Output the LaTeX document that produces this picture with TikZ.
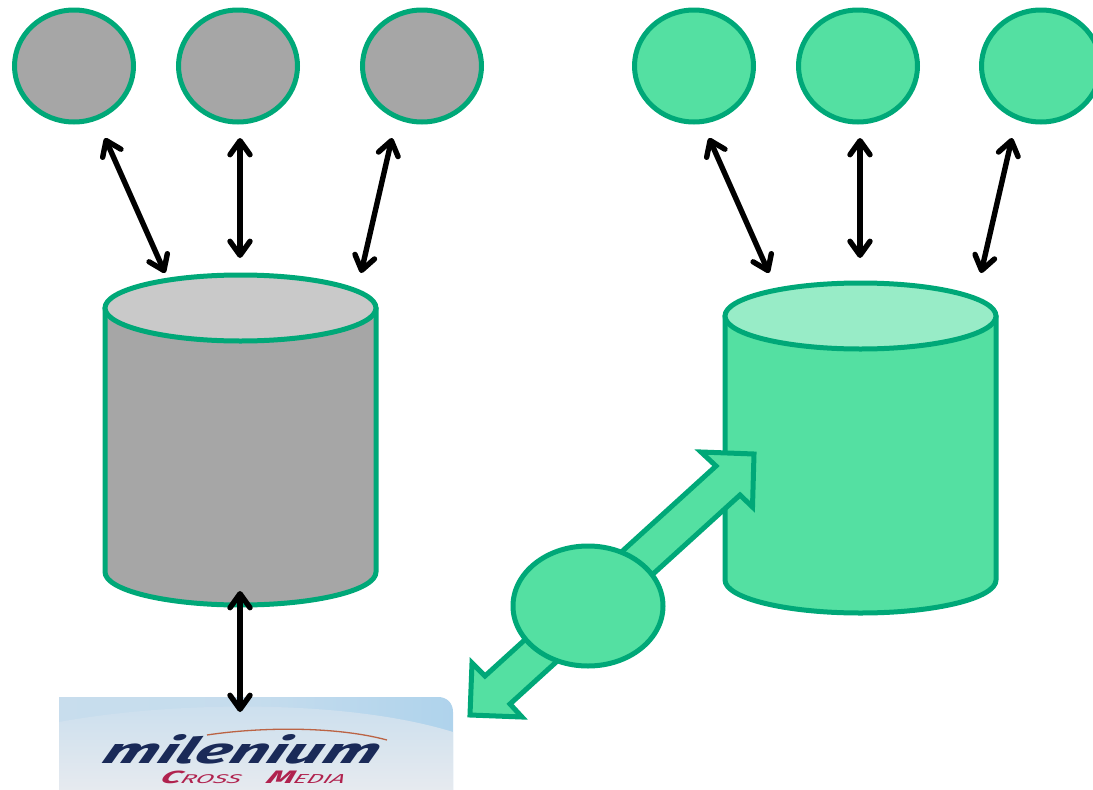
\documentclass[tikz,border=0pt]{standalone}
\usepackage{fontspec}
\setmainfont{Fira Sans}
\usetikzlibrary{arrows.meta,shapes.geometric}
\definecolor{edgeg}{HTML}{00A878}
\definecolor{fillg}{HTML}{54E0A2}
\definecolor{capg}{HTML}{98ECC7}
\definecolor{fillk}{HTML}{A6A6A6}
\definecolor{capk}{HTML}{C9C9C9}
\definecolor{logosky}{HTML}{AFD3EC}
\definecolor{logopale}{HTML}{E6EAEF}
\definecolor{logonavy}{HTML}{1A2A58}
\definecolor{logored}{HTML}{B0224E}
\tikzset{
  station/.style={ellipse,draw=edgeg,line width=5pt,minimum width=119pt,minimum height=112pt,inner sep=0pt,outer sep=0pt},
  greyst/.style={station,fill=fillk},
  greenst/.style={station,fill=fillg},
  storecap/.style={ellipse,draw=edgeg,line width=5pt,minimum width=271pt,minimum height=66pt,inner sep=0pt,outer sep=0pt},
  storebody/.style={draw=edgeg,line width=5pt,line join=round},
  link/.style={draw=black,line width=5.4pt,{Straight Barb[length=14pt,width=20pt,line width=5.4pt,round]}-{Straight Barb[length=14pt,width=20pt,line width=5.4pt,round]}},
  bigarrow/.style={draw=edgeg,fill=fillg,line width=5pt,miter limit=10},
  logotext/.style={inner sep=0pt,text=logonavy,font=\bfseries\itshape,xslant=0.45},
  logosub/.style={inner sep=0pt,text=logored,font=\itshape,xslant=0.45,anchor=west}
}
\begin{document}
\begin{tikzpicture}[x=1pt,y=-1pt]
\useasboundingbox (0,0) rectangle (1093,790);
% stations
\node[greyst] (g1) at (74,66) {};
\node[greyst] (g2) at (238,66) {};
\node[greyst] (g3) at (422,66) {};
\node[greenst] (h1) at (694,66) {};
\node[greenst] (h2) at (858,66) {};
\node[greenst] (h3) at (1041,66) {};
% stores
\path[storebody,fill=fillk] (105,308) -- (105,572) .. controls (105,590) and (165,605) .. (240.5,605)
  .. controls (316,605) and (376,590) .. (376,572) -- (376,308) -- cycle;
\node[storecap,fill=capk] (sa) at (240.5,308) {};
\path[storebody,fill=fillg] (725,316) -- (725,580) .. controls (725,598) and (785,613) .. (860.5,613)
  .. controls (936,613) and (996,598) .. (996,580) -- (996,316) -- cycle;
\node[storecap,fill=capg] (sb) at (860.5,316) {};
% logo
\path[left color=logosky!55!logopale,right color=logosky,middle color=logosky!60!logopale]
  (59,697) -- (438,697) .. controls (447,697) and (453,703) .. (453,712) -- (453,790) -- (59,790) -- cycle;
\path[top color=logosky!50!logopale,bottom color=logopale]
  (59,722) .. controls (180,700) and (350,700) .. (453,732) -- (453,790) -- (59,790) -- cycle;
\node[logotext] (logoa) at (244,749) {\resizebox{274pt}{29pt}{milenium}};
\node[logosub] (logoc) at (162,777) {\resizebox{80pt}{12.5pt}{{\bfseries C}\scalebox{.72}{ROSS}}};
\node[logosub] (logoe) at (268,777) {\resizebox{78pt}{12.5pt}{{\bfseries M}\scalebox{.72}{EDIA}}};
\coordinate (arcl) at (207,735);
\coordinate (arcr) at (387,740);
\draw[line width=1.3pt,draw=brown!70!logored] (arcl) .. controls (260,727) and (335,726) .. (arcr);
% connectors
\coordinate (a1s) at (105,138); \coordinate (a1e) at (165,273);
\coordinate (a2s) at (240,138); \coordinate (a2e) at (240,258);
\coordinate (a3s) at (392,138); \coordinate (a3e) at (361,273);
\coordinate (b1s) at (709,138); \coordinate (b1e) at (769,273);
\coordinate (b2s) at (860,138); \coordinate (b2e) at (860,258);
\coordinate (b3s) at (1012,138); \coordinate (b3e) at (981,273);
\coordinate (cs) at (240,591); \coordinate (ce) at (240,712);
\draw[link] (a1s) -- (a1e);
\draw[link] (a2s) -- (a2e);
\draw[link] (a3s) -- (a3e);
\draw[link] (b1s) -- (b1e);
\draw[link] (b2s) -- (b2e);
\draw[link] (b3s) -- (b3e);
\draw[link] (cs) -- (ce);
% big double arrow
\path[bigarrow] (754,454) -- (701,452) -- (716,466) -- (485,676) -- (472,663) -- (470,715)
  -- (522,717) -- (510,704) -- (740,495) -- (752.5,507) -- cycle;
\node[station,fill=fillg,minimum width=150pt,minimum height=120pt] (hub) at (588,606) {};
\end{tikzpicture}
\end{document}
